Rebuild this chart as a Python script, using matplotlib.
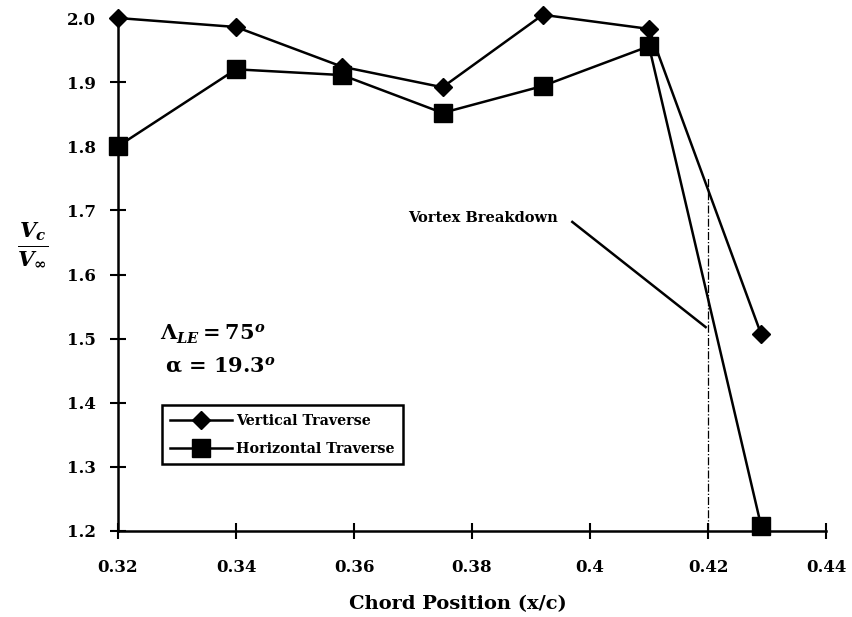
import matplotlib
matplotlib.use('Agg')
import matplotlib.pyplot as plt

x_pos = [0.32, 0.34, 0.358, 0.375, 0.392, 0.41, 0.429]
vertical = [2.000, 1.986, 1.924, 1.892, 2.005, 1.983, 1.507]
horizontal = [1.800, 1.920, 1.911, 1.852, 1.894, 1.956, 1.208]

x_ticks = [0.32, 0.34, 0.36, 0.38, 0.40, 0.42, 0.44]
x_labels = ['0.32', '0.34', '0.36', '0.38', '0.4', '0.42', '0.44']
y_ticks = [1.2, 1.3, 1.4, 1.5, 1.6, 1.7, 1.8, 1.9, 2.0]

breakdown_x = 0.42
breakdown_top = 1.75
pointer_x = [0.397, 0.4196]
pointer_y = [1.682, 1.518]

plt.rcParams['font.family'] = 'DejaVu Serif'
plt.rcParams['font.weight'] = 'bold'
plt.rcParams['mathtext.fontset'] = 'custom'
plt.rcParams['mathtext.rm'] = 'DejaVu Serif:bold'
plt.rcParams['mathtext.it'] = 'DejaVu Serif:italic:bold'
plt.rcParams['mathtext.bf'] = 'DejaVu Serif:bold'

fig = plt.figure(figsize=(8.52, 6.17), dpi=100)
ax = fig.add_axes([0.1385, 0.1394, 0.831, 0.8314])

ax.plot(x_pos, vertical, color='black', lw=1.8, marker='D', ms=9.5,
        label='Vertical Traverse', clip_on=False, zorder=3)
ax.plot(x_pos, horizontal, color='black', lw=1.8, marker='s', ms=12.5,
        label='Horizontal Traverse', clip_on=False, zorder=3)

# vortex breakdown marker
ax.plot([breakdown_x, breakdown_x], [1.2, breakdown_top], color='black',
        lw=0.9, ls='-.', zorder=2)
ax.plot(pointer_x, pointer_y, color='black', lw=1.8, zorder=2)
ax.text(0.3946, 1.688, 'Vortex Breakdown', fontsize=10.5,
        fontweight='bold', ha='right', va='center')

ax.text(0.3271, 1.498, r'$\Lambda_{LE} = \mathit{75}^{o}$', fontsize=15,
        va='baseline')
ax.text(0.328, 1.448, r'α = $\mathit{19.3}^{o}$', fontsize=15,
        va='baseline')

ax.text(-0.12, 0.559, r'$\frac{V_c}{V_\infty}$', transform=ax.transAxes,
        fontsize=22, ha='center', va='center')

ax.set_xlim(0.32, 0.44)
ax.set_ylim(1.2, 2.0)
ax.set_xticks(x_ticks)
ax.set_xticklabels(x_labels)
ax.set_yticks(y_ticks)
ax.set_yticklabels(['%.1f' % v for v in y_ticks])
ax.tick_params(direction='inout', length=12, width=1.5, labelsize=12,
               pad=10)
ax.tick_params(axis='x', pad=14)
for s in ['top', 'right']:
    ax.spines[s].set_visible(False)
for s in ['left', 'bottom']:
    ax.spines[s].set_linewidth(1.8)

ax.text(0.48, -0.125, 'Chord Position (x/c)', transform=ax.transAxes,
        fontsize=14, fontweight='bold', ha='center', va='top')

leg = ax.legend(loc='upper left', bbox_to_anchor=(0.062, 0.2456),
                borderaxespad=0, fancybox=False, edgecolor='black',
                framealpha=1, fontsize=10.3, handlelength=4.3,
                handletextpad=0.3, labelspacing=1.0, borderpad=0.6)
leg.get_frame().set_linewidth(1.8)

fig.savefig('out.png', dpi=100)
